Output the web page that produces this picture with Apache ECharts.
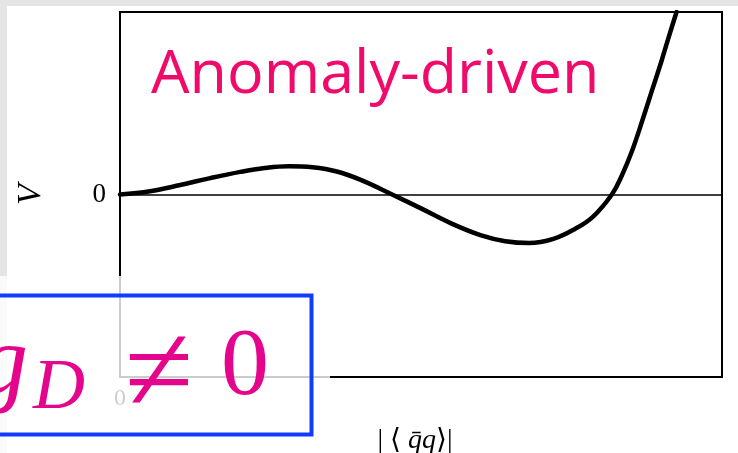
<!DOCTYPE html>
<html>
<head>
<meta charset="utf-8">
<script src="https://cdn.jsdelivr.net/npm/echarts@6/dist/echarts.min.js"></script>
<style>
  html, body { margin: 0; padding: 0; background: #ffffff; }
  #chart { width: 738px; height: 453px; }
</style>
</head>
<body>
<div id="chart"></div>
<script>
// Order parameter (scaled to 0..100) and the potential V (scaled to -100..100)
const orderParam = [0, 5, 10, 15, 20, 24, 28, 32, 36, 40, 45.2, 50, 55, 60, 64, 68, 72, 75.5, 78.5, 81.7, 83.4, 85.05, 86.9, 88.4, 89.9, 91.2, 92.45];
const potential  = [0, 1.8, 5.2, 9.0, 12.4, 14.5, 15.5, 14.9, 12.6, 8.0, 0, -7.6, -15.8, -22.4, -25.6, -26.6, -24.3, -19.0, -12.4, 0, 10.7, 23.8, 41.9, 57.3, 72.6, 86.8, 100];
const yTicks = ['0'];
const xTicks = ['0'];
const xName = '| \u27E8 {i|q\u0304q}\u27E9|';
const yName = 'V';
const title = 'Anomaly-driven';

const serif = '"Liberation Serif", "DejaVu Serif", serif';
const pinkTitle = '#f00a69';
const pinkMath = '#e5048c';
const blue = '#0f3cff';

const chart = echarts.init(document.getElementById('chart'), null, { renderer: 'canvas' });

const option = {
  backgroundColor: '#ffffff',
  animation: false,
  grid: {
    left: 120, top: 12, right: 16, bottom: 76,
    containLabel: false, outerBoundsMode: 'none',
    show: true, borderColor: '#000', borderWidth: 2, backgroundColor: 'transparent'
  },
  xAxis: {
    type: 'value', min: 0, max: 100, interval: 100,
    axisLine: { show: false }, axisTick: { show: false }, splitLine: { show: false },
    axisLabel: {
      margin: 10, fontFamily: serif, fontSize: 24, color: '#000',
      formatter: v => (v === 0 ? xTicks[0] : '')
    },
    name: xName, nameLocation: 'middle', nameGap: 50,
    nameTextStyle: {
      fontFamily: serif, fontSize: 28, color: '#000', padding: [0, 12, 0, 0],
      rich: { i: { fontFamily: serif, fontStyle: 'italic', fontSize: 28, color: '#000' } }
    }
  },
  yAxis: {
    type: 'value', min: -100, max: 100, interval: 100,
    axisLine: { show: false }, axisTick: { show: false }, splitLine: { show: false },
    axisLabel: {
      margin: 14, fontFamily: serif, fontSize: 27, color: '#000',
      formatter: v => (v === 0 ? yTicks[0] : '')
    },
    name: yName, nameLocation: 'middle', nameGap: 72, nameRotate: 90,
    nameTextStyle: { fontFamily: serif, fontStyle: 'italic', fontSize: 34, color: '#000' }
  },
  series: [{
    type: 'line',
    data: orderParam.map((x, i) => [x, potential[i]]),
    smooth: 0.4,
    showSymbol: false,
    clip: true,
    lineStyle: { color: '#000', width: 4.5, cap: 'round' },
    markLine: {
      silent: true, symbol: 'none', label: { show: false },
      lineStyle: { color: '#000', width: 1.5, type: 'solid' },
      data: [{ yAxis: 0 }]
    },
    z: 3
  }],
  graphic: [
    // grey page margin along the top and left
    { type: 'rect', z: -10, silent: true, shape: { x: 0, y: 0, width: 738, height: 6 }, style: { fill: '#e5e5e5' } },
    { type: 'rect', z: -10, silent: true, shape: { x: 0, y: 0, width: 7, height: 453 }, style: { fill: '#e5e5e5' } },
    // title inside the plot
    {
      type: 'text', z: 50, left: 151, top: 45,
      style: { text: title, fill: pinkTitle, fontFamily: '"Open Sans", "Noto Sans", sans-serif', fontSize: 61 }
    },
    // translucent panel over the lower-left corner
    { type: 'rect', z: 100, silent: true, shape: { x: 0, y: 276, width: 330, height: 177 }, style: { fill: 'rgba(255,255,255,0.8)' } },
    // blue framed box
    { type: 'rect', z: 101, silent: true, shape: { x: -20, y: 295.5, width: 331.5, height: 139 }, style: { fill: 'none', stroke: blue, lineWidth: 4 } },
    // g_D != 0
    { type: 'text', z: 102, x: 28, y: 417, style: { text: 'g', fill: pinkMath, fontFamily: serif, fontStyle: 'italic', fontSize: 100, align: 'right', verticalAlign: 'bottom' } },
    { type: 'text', z: 102, x: 33, y: 425, style: { text: 'D', fill: pinkMath, fontFamily: serif, fontStyle: 'italic', fontSize: 72, align: 'left', verticalAlign: 'bottom' } },
    { type: 'text', z: 102, x: 159, y: 378, style: { text: '\u2260', fill: pinkMath, fontFamily: serif, fontSize: 125, align: 'center', verticalAlign: 'middle' } },
    { type: 'text', z: 102, x: 245, y: 417, style: { text: '0', fill: pinkMath, fontFamily: serif, fontSize: 96, align: 'center', verticalAlign: 'bottom' } }
  ]
};

chart.setOption(option);
</script>
</body>
</html>
